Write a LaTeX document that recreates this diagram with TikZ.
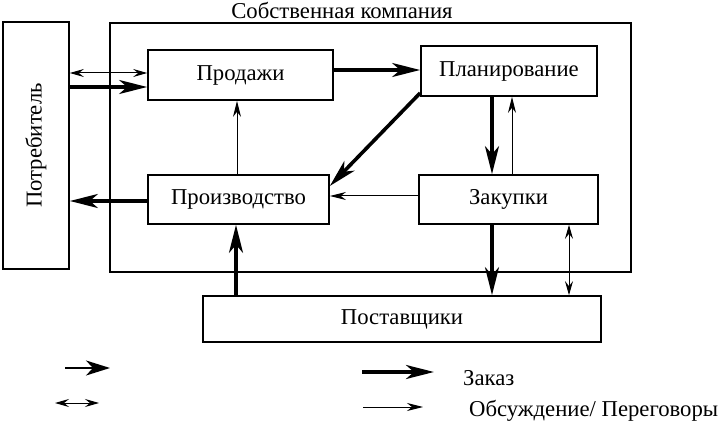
\documentclass[tikz,border=0pt]{standalone}
\usepackage{fontspec}
\setmainfont{Liberation Serif}
\usetikzlibrary{arrows.meta}
\begin{document}
\begin{tikzpicture}[x=1pt,y=-1pt,
  box/.style={draw, line width=1.7pt, minimum width=#1, inner sep=0pt, font=\fontsize{22.7}{26}\selectfont},
  lbl/.style={font=\fontsize{22.7}{26}\selectfont, inner sep=0pt},
  ordr/.style={line width=3.6pt, -{Stealth[length=28pt,width=14pt,inset=8pt]}},
  talk/.style={line width=1pt, -{Stealth[length=16pt,width=8pt,inset=5pt]}},
  talkd/.style={line width=1pt, {Stealth[length=14pt,width=8pt,inset=5pt]}-{Stealth[length=14pt,width=8pt,inset=5pt]}},
  medarr/.style={line width=2pt, -{Stealth[length=24pt,width=15pt,inset=7pt]}}]
\useasboundingbox (0,0) rectangle (720,427);
% boxes
\node[box=521pt, minimum height=249pt] (comp) at (370.5,147.5) {};
\node[lbl, anchor=base] (title) at (342,19) {Собственная компания};
\node[box=66pt, minimum height=247pt] (potr) at (36,145.5) {};
\node[lbl, rotate=90] (potrt) at (potr.center) {Потребитель};
\node[box=185pt, minimum height=50pt] (sales) at (240.5,75) {Продажи};
\node[box=176pt, minimum height=50pt] (plan) at (509,71) {Планирование};
\node[box=181pt, minimum height=49pt] (prod) at (238.5,199.5) {Производство};
\node[box=179pt, minimum height=49pt] (zak) at (508.5,199.5) {Закупки};
\node[box=398pt, minimum height=46pt] (post) at (402,319) {Поставщики};
% helper coordinates
\coordinate (h73) at (0,73);
\coordinate (h87) at (0,87);
\coordinate (h70) at (0,70);
\coordinate (h196) at (0,196);
\coordinate (h201) at (0,201);
\coordinate (h187) at (0,186);
\coordinate (h93) at (0,93);
\coordinate (v237) at (237,0);
\coordinate (v492) at (492,0);
\coordinate (v512) at (512,0);
\coordinate (v569) at (569,0);
\coordinate (v236) at (236,0);
% connectors
\draw[talkd] (potr.east |- h73) -- (sales.west |- h73);
\draw[ordr] (potr.east |- h87) -- (sales.west |- h87);
\draw[ordr] (sales.east |- h70) -- (plan.west |- h70);
\draw[ordr] (plan.west |- h93) -- (prod.east |- h187);
\draw[talk] (prod.north -| v237) -- (sales.south -| v237);
\draw[talk] (zak.west |- h196) -- (prod.east |- h196);
\draw[ordr] (prod.west |- h201) -- (potr.east |- h201);
\draw[ordr] (plan.south -| v492) -- (zak.north -| v492);
\draw[talk] (zak.north -| v512) -- (plan.south -| v512);
\draw[ordr] (zak.south -| v492) -- (post.north -| v492);
\draw[talkd] (zak.south -| v569) -- (post.north -| v569);
\draw[ordr] (post.north -| v236) -- (prod.south -| v236);
% legend
\coordinate (la1) at (65,368); \coordinate (la2) at (110,368);
\coordinate (lb1) at (55,403); \coordinate (lb2) at (99,403);
\coordinate (lc1) at (362,372); \coordinate (lc2) at (434,372);
\coordinate (ld1) at (363,407); \coordinate (ld2) at (423,407);
\draw[medarr] (la1) -- (la2);
\draw[talkd] (lb1) -- (lb2);
\draw[ordr] (lc1) -- (lc2);
\draw[talk] (ld1) -- (ld2);
\node[lbl, anchor=base west] (zakaz) at (463,385) {Заказ};
\node[lbl, anchor=base west] (obs) at (469,417) {Обсуждение/ Переговоры};
\end{tikzpicture}
\end{document}
